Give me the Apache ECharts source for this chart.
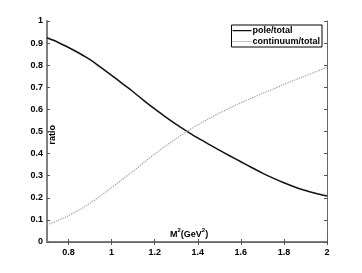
<!DOCTYPE html>
<html><head><meta charset="utf-8">
<script src="https://cdn.jsdelivr.net/npm/echarts@6/dist/echarts.min.js"></script>
<style>html,body{margin:0;padding:0;background:#fff}#c{width:362px;height:273px}</style>
</head><body><div id="c"></div>
<script>
const m2 = [0.7,0.75,0.8,0.85,0.9,0.95,1.0,1.05,1.1,1.15,1.2,1.25,1.3,1.35,1.4,1.45,1.5,1.55,1.6,1.65,1.7,1.75,1.8,1.85,1.9,1.95,2.0];
const pole = [0.924,0.904,0.880,0.854,0.825,0.790,0.754,0.717,0.680,0.640,0.602,0.566,0.532,0.501,0.471,0.443,0.416,0.389,0.363,0.337,0.312,0.289,0.268,0.249,0.233,0.219,0.208];
const continuum = [0.078,0.097,0.119,0.146,0.176,0.210,0.246,0.283,0.320,0.360,0.398,0.434,0.468,0.500,0.530,0.557,0.583,0.607,0.630,0.651,0.672,0.692,0.713,0.733,0.752,0.771,0.790];
const xTicks = [0.8,1,1.2,1.4,1.6,1.8,2];
const seriesNames = ['pole/total','continuum/total'];

const chart = echarts.init(document.getElementById('c'));
const font = {fontFamily:'Liberation Sans, Arial, sans-serif', fontWeight:'bold', fontSize:9, color:'#000'};
const dots = 'path://' + Array.from({length:10},(_,i)=>`M${i*2},4h1v1h-1z`).join(' ') + ' M0,0h0.01v0.01h-0.01z M19,9h0.01v0.01h-0.01z';
chart.setOption({
  animation:false,
  grid:{left:47,right:35,top:21,bottom:31},
  legend:{
    orient:'vertical', right:40, top:25, itemWidth:19, itemHeight:9, itemGap:2,
    padding:[1,2,1,1], borderColor:'#000', borderWidth:1, backgroundColor:'#fff',
    textStyle:{...font, padding:[0,0,0,-4]},
    data:[{name:seriesNames[0], icon:'path://M0,0h0.01v0.01h-0.01z M0,4L20,4L20,5.3L0,5.3Z M19.99,9h0.01v0.01h-0.01z', itemStyle:{color:'#111'}},
          {name:seriesNames[1], icon:dots, itemStyle:{color:'#888'}}]
  },
  xAxis:[{
    type:'value', min:0.7, max:2, position:'bottom',
    axisLine:{show:true,lineStyle:{color:'#808080',width:2}},
    axisLabel:{...font, margin:6, customValues:xTicks, formatter:v=>String(+v.toFixed(1))},
    axisTick:{show:true,inside:true,length:3,customValues:xTicks,lineStyle:{color:'#555'}},
    splitLine:{show:false}
  },{
    type:'value', min:0.7, max:2, position:'top',
    axisLine:{show:true,lineStyle:{color:'#666',width:1}},
    axisTick:{show:true,inside:true,length:3,customValues:xTicks,lineStyle:{color:'#555'}},
    axisLabel:{show:false}, splitLine:{show:false}
  }],
  yAxis:[{
    type:'value', min:0, max:1, interval:0.1, position:'left',
    axisLine:{show:true,lineStyle:{color:'#808080',width:2}},
    axisTick:{show:true,inside:true,length:3,lineStyle:{color:'#555'}},
    axisLabel:{...font, margin:4, formatter:v=>String(+v.toFixed(1))},
    splitLine:{show:false}
  },{
    type:'value', min:0, max:1, interval:0.1, position:'right',
    axisLine:{show:true,lineStyle:{color:'#666',width:1}},
    axisTick:{show:true,inside:true,length:3,lineStyle:{color:'#555'}},
    axisLabel:{show:false}, splitLine:{show:false}
  }],
  graphic:[
    {type:'text', left:48, top:125, rotation:Math.PI/2, style:{text:'ratio', fill:'#000', font:'bold 9px "Liberation Sans"'}},
    {type:'text', x:170, y:227, style:{rich:{n:{fontFamily:'Liberation Sans',fontWeight:'bold',fontSize:9,color:'#000',verticalAlign:'bottom',lineHeight:12},s:{fontFamily:'Liberation Sans',fontWeight:'bold',fontSize:6,color:'#000',verticalAlign:'top',lineHeight:12}}, text:'{n|M}{s|2}{n|(GeV}{s|2}{n|)}'}}
  ],
  series:[
    {name:seriesNames[0], type:'line', smooth:0.3, showSymbol:false, symbol:'none', data:m2.map((x,i)=>[x,pole[i]]), lineStyle:{color:'#111',width:1.5}, itemStyle:{color:'#111'}},
    {name:seriesNames[1], type:'line', smooth:0.3, showSymbol:false, symbol:'none', data:m2.map((x,i)=>[x,continuum[i]]), lineStyle:{color:'#999',width:1.2,type:[1.2,1.2]}, itemStyle:{color:'#888'}}
  ]
});
</script></body></html>
